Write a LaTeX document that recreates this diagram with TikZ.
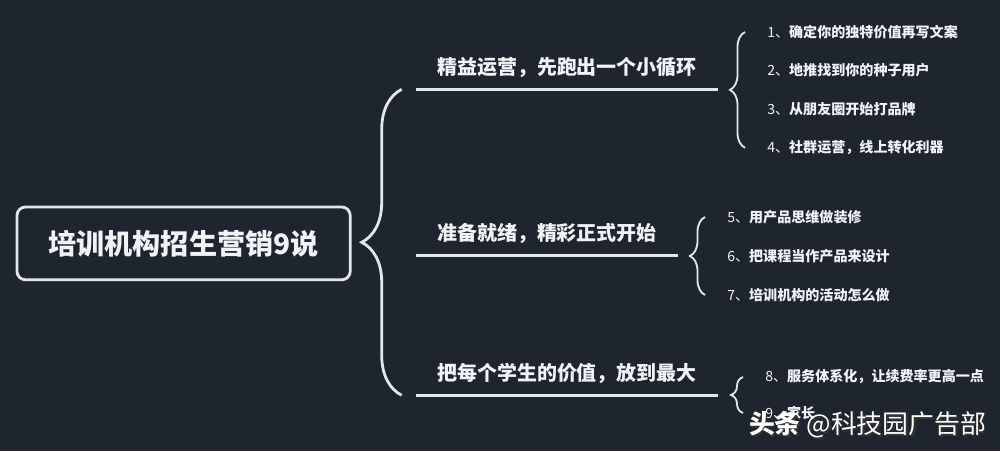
\documentclass[tikz,border=0pt]{standalone}
\usepackage{fontspec}
\usepackage{xcolor}
\setmainfont{Noto Sans CJK SC}
\usetikzlibrary{decorations.pathreplacing, calc, positioning}
\definecolor{mapbg}{RGB}{31,37,46}
\definecolor{mapline}{RGB}{226,230,240}
\definecolor{maptext}{RGB}{242,243,247}

\begin{document}
\begin{tikzpicture}[
    root/.style={draw=mapline, line width=2pt, rounded corners=6pt,
                 minimum width=8.33cm, minimum height=1.82cm,
                 font=\fontsize{20}{24}\selectfont\bfseries, text=maptext},
    branch/.style={minimum height=1.1cm, inner sep=0pt,
                   font=\fontsize{14.2}{17}\selectfont\bfseries, text=maptext},
    item/.style={anchor=west, inner sep=0pt,
                 font=\fontsize{10}{12}\selectfont\bfseries, text=maptext},
    uline/.style={mapline, line width=2pt},
    bigbrace/.style={mapline, line width=2pt, decorate,
                     decoration={brace, amplitude=1cm}},
    smallbrace/.style={mapline, line width=1.3pt, decorate,
                       decoration={brace, amplitude=#1}}
  ]
    % background and margins
    \fill[mapbg] (0,0) rectangle (25,11.275);
    \useasboundingbox (0,0) rectangle (25,11.275);

    % root
    \node[root] (root) at (4.59, 5.19) {培训机构招生营销9说};

    % branches
    \node[branch, minimum width=7.55cm] (b1) at (14.175, 9.6)  {精益运营，先跑出一个小循环};
    \node[branch, minimum width=6.55cm] (b2) at (13.675, 5.45) {准备就绪，精彩正式开始};
    \node[branch, minimum width=7.55cm] (b3) at (14.175, 1.95) {把每个学生的价值，放到最大};

    \draw[uline] (b1.south west) -- (b1.south east);
    \draw[uline] (b2.south west) -- (b2.south east);
    \draw[uline] (b3.south west) -- (b3.south east);

    % items
    \node[item] (i1) at (19.175, 10.475) {{\mdseries 1、}确定你的独特价值再写文案};
    \node[item] (i2) at (19.175, 9.51)   {{\mdseries 2、}地推找到你的种子用户};
    \node[item] (i3) at (19.175, 8.55)   {{\mdseries 3、}从朋友圈开始打品牌};
    \node[item] (i4) at (19.175, 7.58)   {{\mdseries 4、}社群运营，线上转化利器};

    \node[item] (i5) at (18.175, 5.85) {{\mdseries 5、}用产品思维做装修};
    \node[item] (i6) at (18.175, 4.87) {{\mdseries 6、}把课程当作产品来设计};
    \node[item] (i7) at (18.175, 3.9)  {{\mdseries 7、}培训机构的活动怎么做};

    \node[item] (i8) at (19.125, 1.85) {{\mdseries 8、}服务体系化，让续费率更高一点};
    \node[item] (i9) at (19.125, 0.95) {{\mdseries 9、}家长};

    % braces
    \draw[bigbrace] ($(b3.south west)+(-0.35,0)$) -- ($(b1.south west)+(-0.35,0)$);
    \draw[smallbrace=0.375cm] ($(i4.west)+(-0.55,0)$) -- ($(i1.west)+(-0.55,0)$);
    \draw[smallbrace=0.375cm] ($(i7.west)+(-0.55,0)$) -- ($(i5.west)+(-0.55,0)$);
    \draw[smallbrace=0.3cm]   ($(i9.west)+(-0.55,0)$) -- ($(i8.west)+(-0.55,0)$);

    % watermark
    \node[font=\fontsize{18.4}{22}\selectfont, text=black!80] (wmshadow) at (21.73, 0.61)
      {{\bfseries 头条} @科技园广告部};
    \node[font=\fontsize{18.4}{22}\selectfont, text=white] (wm) at (21.69, 0.65)
      {{\bfseries 头条} @科技园广告部};
  \end{tikzpicture}
\end{document}
